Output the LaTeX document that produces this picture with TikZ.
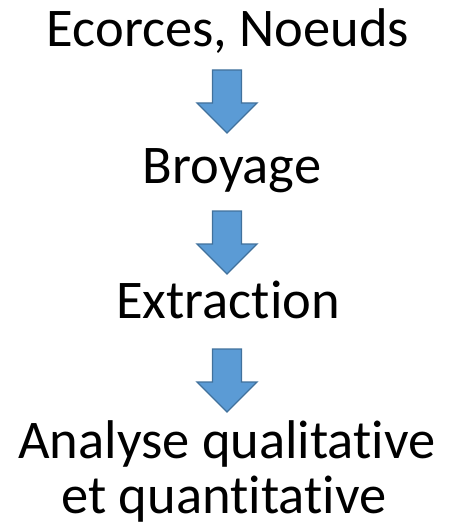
\documentclass[tikz,border=0pt]{standalone}
\usepackage{fontspec}
\setmainfont{Carlito}[Ligatures={NoCommon}]
\definecolor{arrowfill}{HTML}{5B9BD5}
\definecolor{arrowline}{HTML}{41719C}
\tikzset{
  label/.style={anchor=base, inner sep=0pt, font=\fontsize{54.5}{55}\selectfont, text=black},
  arrowstyle/.style={fill=arrowfill, draw=arrowline, line width=1.3pt, line join=miter},
  blockarrow/.pic={\draw[arrowstyle] (-14.5,0) -- (14.5,0) -- (14.5,-33) -- (30,-33) -- (0,-63) -- (-30,-33) -- (-14.5,-33) -- cycle;}
}
\begin{document}
\begin{tikzpicture}[x=1pt,y=1pt]
\useasboundingbox (0,0) rectangle (450,-532);
\node[label] (t1) at (228,-47) {Ecorces, Noeuds};
\node[label] (t2) at (232,-183) {Broyage};
\node[label] (t3) at (228,-318) {Extraction};
\node[label] (t4) at (227,-458) {Analyse qualitative};
\node[label] (t5) at (224,-513) {et quantitative};
\pic at (227,-70) {blockarrow};
\pic at (227,-211) {blockarrow};
\pic at (227,-349) {blockarrow};
\end{tikzpicture}
\end{document}
